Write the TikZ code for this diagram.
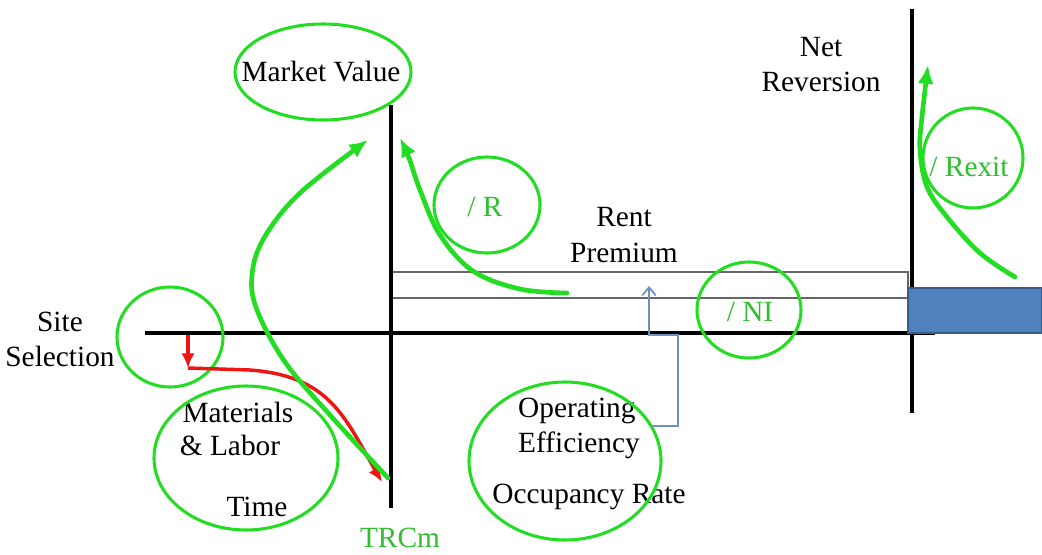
\documentclass[tikz,border=0pt]{standalone}
\usepackage{fontspec}
\setmainfont{Liberation Serif}
\usetikzlibrary{arrows.meta,shapes.geometric}
\definecolor{penGreen}{RGB}{34,221,34}
\definecolor{labelGreen}{RGB}{46,190,46}
\definecolor{boxBlue}{RGB}{79,129,189}
\definecolor{boxBlueEdge}{RGB}{56,93,138}
\definecolor{arrowBlue}{RGB}{110,145,195}
\definecolor{penRed}{RGB}{238,20,20}

\begin{document}
\begin{tikzpicture}[x=0.75pt,y=-0.75pt,
  every node/.append style={font=\fontsize{22}{26.3}\selectfont, inner sep=0pt},
  ring/.style={draw=penGreen, line width=2.3pt, ellipse},
  axis/.style={line width=3.2pt, black},
  pen/.style={draw=penGreen, line width=3.5pt, line cap=round, -{Latex[length=14pt,width=12pt]}},
  redpen/.style={draw=penRed, line width=2.6pt, -{Latex[length=11pt,width=10pt]}},
  thinbox/.style={draw=black!60, line width=1.1pt},
  greenlabel/.style={text=labelGreen}]

\useasboundingbox (0,0) rectangle (1042,554);

% axes
\coordinate (axisL) at (145,333);
\coordinate (axisR) at (935,333);
\coordinate (buildTop) at (391,105);
\coordinate (buildBot) at (391,508);
\coordinate (exitTop) at (912,9);
\coordinate (exitBot) at (912,413);

% rent premium bands
\draw[thinbox] (391,272) rectangle (908,333);
\draw[thinbox] (391,298) -- (908,298);

\draw[axis] (axisL) -- (axisR);
\draw[axis] (buildTop) -- (buildBot);
\draw[axis] (exitTop) -- (exitBot);

\draw[fill=boxBlue, draw=boxBlueEdge, line width=1pt] (908,288) rectangle (1042,333);

% labels
\node (marketText) at (321,72) {Market Value};
\node[align=center] (site) at (60,339) {Site\\Selection};
\node (materials) at (238,412) {Materials};
\node (labor) at (230,445) {\& Labor};
\node (time) at (257,507) {Time};
\node[align=center] (rent) at (624,235) {Rent\\Premium};
\node[align=center] (netrev) at (821,65) {Net\\Reversion};
\node[align=left] (operating) at (579,428) {Operating\\Efficiency};
\node (occupancy) at (589,497) {Occupancy Rate};
\node[greenlabel] (trcm) at (400,538) {TRCm};
\node[greenlabel] (rexit) at (969,167) {/ Rexit};
\node[greenlabel] (rText) at (485,207) {/ R};
\node[greenlabel] (niText) at (750,312) {/ NI};

% green rings
\node[ring, minimum width=132pt, minimum height=72pt] (market) at (323,72) {};
\node[ring, minimum width=79.5pt, minimum height=75pt] (siteRing) at (170,337) {};
\node[ring, minimum width=138pt, minimum height=108pt] (costRing) at (246,458) {};
\node[ring, minimum width=79.5pt, minimum height=72pt] (capR) at (487,205) {};
\node[ring, minimum width=144pt, minimum height=118.5pt] (opRing) at (565,461) {};
\node[ring, minimum width=78pt, minimum height=72pt] (incomeNI) at (749,310) {};
\node[ring, minimum width=75pt, minimum height=75pt] (rexitRing) at (973,158) {};

% red cost path
\coordinate (redTop) at (188,335);
\coordinate (redCorner) at (188,368);
\coordinate (redEnd) at (382,482);
\draw[redpen] (redTop) -- (redCorner);
\draw[redpen] (redCorner) -- (250,370) .. controls (330,376) and (345,418) .. (redEnd);

% green arrows
\coordinate (costStart) at (388,478);
\coordinate (marketTip) at (368,140);
\draw[pen] plot[smooth, tension=0.6] coordinates {(costStart) (330,415) (285,362) (257,310) (252,275) (264,238) (300,193) (marketTip)};

\coordinate (rentStart) at (567,293);
\coordinate (valueTip) at (400,138);
\draw[pen] plot[smooth, tension=0.6] coordinates {(rentStart) (520,289) (473,271) (440,235) (420,190) (409,158) (valueTip)};

\coordinate (exitStart) at (1015,277);
\coordinate (exitTip) at (928,65);
\draw[pen] plot[smooth, tension=0.6] coordinates {(exitStart) (980,253) (947,217) (927,187) (920,150) (922,117) (exitTip)};

% blue bracket
\coordinate (bracketEnd) at (652,426);
\coordinate (premiumTip) at (649,286);
\draw[arrowBlue, line width=1.3pt, -{Straight Barb[length=6pt,width=10pt]}] (bracketEnd) -- (678,426) -- (678,335) -- (649,335) -- (premiumTip);
\end{tikzpicture}
\end{document}
